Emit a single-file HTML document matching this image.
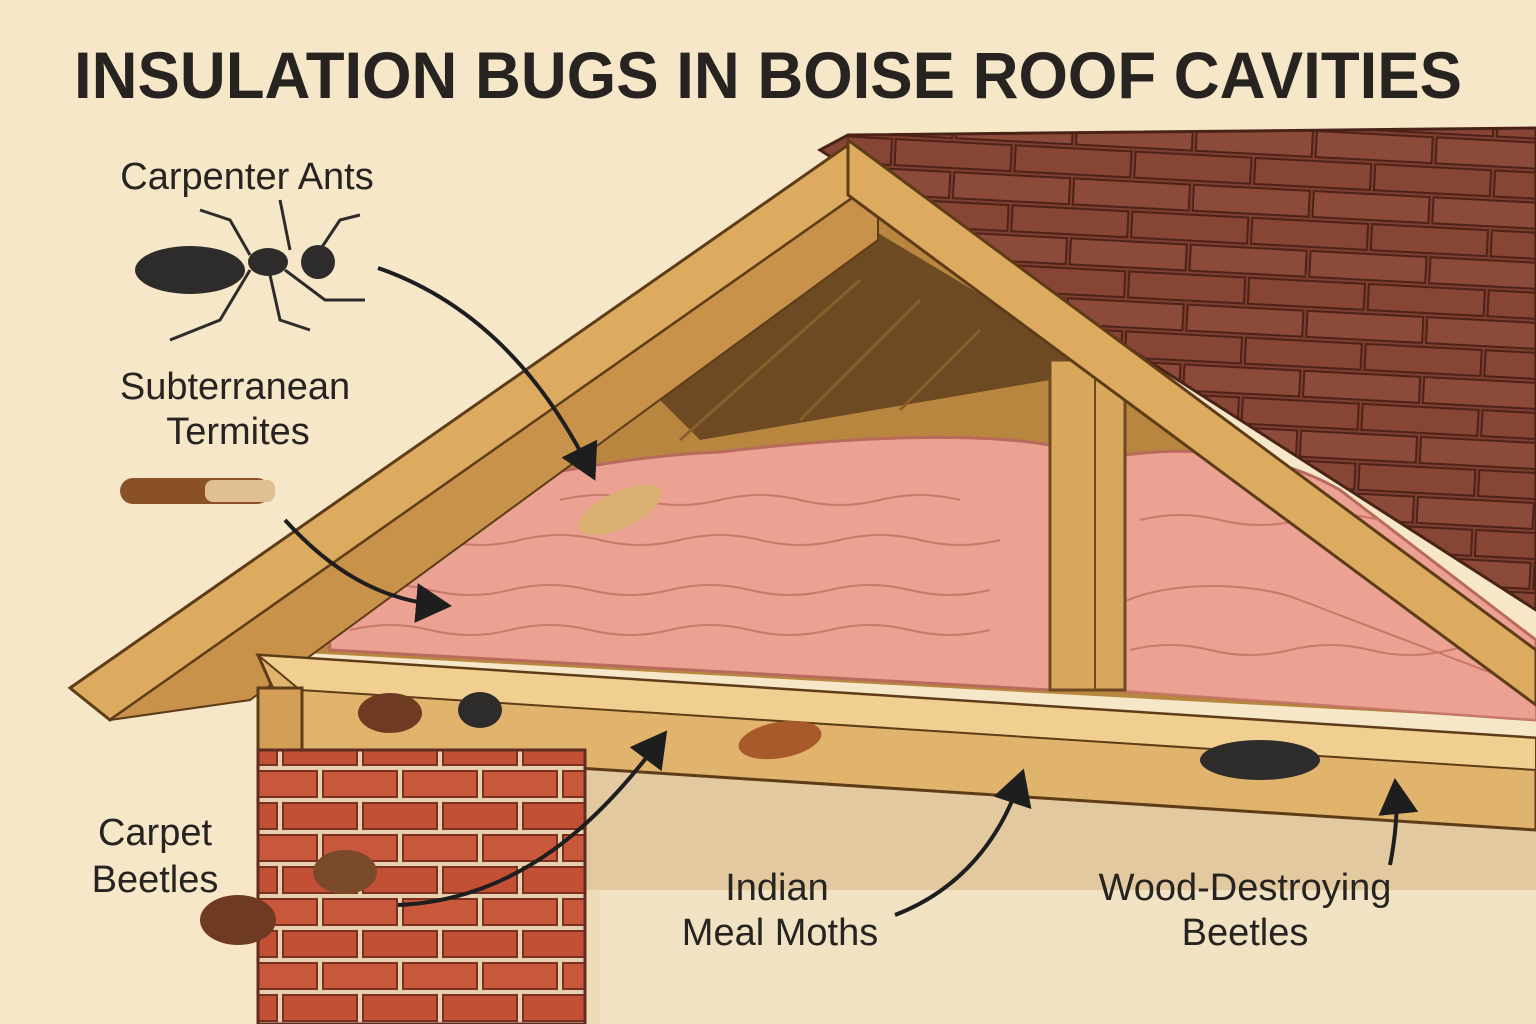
<!DOCTYPE html>
<html><head><meta charset="utf-8"><style>
html,body{margin:0;padding:0;background:#f6e7c9;}
svg{display:block}
text{font-family:"Liberation Sans",sans-serif;fill:#262320}
</style></head><body>
<svg width="1536" height="1024" viewBox="0 0 1536 1024" xmlns="http://www.w3.org/2000/svg">
<defs>
<marker id="ah" markerWidth="10" markerHeight="10" refX="6" refY="5" orient="auto" markerUnits="strokeWidth">
<path d="M0,0 L9,5 L0,10 z" fill="#1e1e1e"/></marker>
<pattern id="brick" width="80" height="64" patternUnits="userSpaceOnUse">
<rect width="80" height="64" fill="#e8cfae"/>
<rect x="3" y="3" width="74" height="26" fill="#c9573b" stroke="#7a3020" stroke-width="2"/>
<rect x="-37" y="35" width="74" height="26" fill="#c35035" stroke="#7a3020" stroke-width="2"/>
<rect x="43" y="35" width="74" height="26" fill="#c35035" stroke="#7a3020" stroke-width="2"/>
</pattern>
<pattern id="shingle" width="120" height="60" patternUnits="userSpaceOnUse" patternTransform="rotate(3)">
<rect width="120" height="60" fill="#7e3f30"/>
<rect x="2" y="2" width="116" height="26" fill="#8c4a3a" stroke="#4e2218" stroke-width="2"/>
<rect x="-58" y="32" width="116" height="26" fill="#864535" stroke="#4e2218" stroke-width="2"/>
<rect x="62" y="32" width="116" height="26" fill="#864535" stroke="#4e2218" stroke-width="2"/>
</pattern>
</defs>
<rect width="1536" height="1024" fill="#f6e7c9"/>
<text x="768" y="98" text-anchor="middle" font-size="66" font-weight="bold" textLength="1388" lengthAdjust="spacingAndGlyphs">INSULATION BUGS IN BOISE ROOF CAVITIES</text>

<rect x="585" y="770" width="951" height="254" fill="#eedbb7"/>
<rect x="585" y="770" width="951" height="120" fill="#e3c9a0"/>
<rect x="600" y="890" width="936" height="134" fill="#f1e2c4"/>
<polygon points="820,150 848,135 1536,128 1536,610" fill="url(#shingle)" stroke="#4a2318" stroke-width="3"/>
<!-- attic interior -->
<polygon points="860,185 250,650 1536,720 1536,660" fill="#b8863f"/>
<polygon points="848,215 660,400 700,440 1050,380 1190,420" fill="#6e4a22"/>
<g stroke="#8a5e2c" stroke-width="3">
<line x1="800" y1="230" x2="420" y2="560"/><line x1="830" y1="260" x2="560" y2="470"/>
<line x1="860" y1="280" x2="680" y2="440"/><line x1="920" y1="300" x2="800" y2="420"/>
<line x1="980" y1="330" x2="900" y2="410"/>
</g>
<!-- insulation -->
<path d="M325,570 C330,520 380,500 470,490 C560,470 640,455 720,452 C820,440 960,430 1050,445 L1050,690 L330,650 Z" fill="#eba292" stroke="#b86a5c" stroke-width="3"/>
<path d="M1125,455 C1200,445 1280,455 1340,490 L1536,640 L1536,720 L1110,690 Z" fill="#eba292" stroke="#b86a5c" stroke-width="3"/>
<path d="M1110,610 C1150,580 1250,580 1300,600 L1536,690 L1536,720 L1110,690 Z" fill="#eba292" stroke="#c9786a" stroke-width="2"/>
<g fill="none" stroke="#c9786a" stroke-width="2">
<path d="M360,540 q40,-10 80,0 t80,0 t80,0 t80,0 t80,0 t80,0 t80,0 t80,0"/>
<path d="M350,590 q40,-10 80,0 t80,0 t80,0 t80,0 t80,0 t80,0 t80,0 t80,0"/>
<path d="M350,630 q40,-10 80,0 t80,0 t80,0 t80,0 t80,0 t80,0 t80,0 t80,0"/>
<path d="M560,500 q40,-10 80,0 t80,0 t80,0 t80,0 t80,0"/>
<path d="M1140,520 q40,-10 80,0 t80,0 t80,0"/>
<path d="M1130,650 q40,-10 80,0 t80,0 t80,0 t80,0 t80,0"/>
</g>
<rect x="1050" y="360" width="75" height="330" fill="#d9a75c" stroke="#6e4a22" stroke-width="3"/>
<line x1="1095" y1="380" x2="1095" y2="690" stroke="#6e4a22" stroke-width="2"/>
<!-- left rafter -->
<polygon points="848,145 878,180 110,720 70,688" fill="#dcab60" stroke="#5e3c18" stroke-width="3"/>
<polygon points="878,180 878,240 250,700 110,720" fill="#c9924a" stroke="#5e3c18" stroke-width="2"/>
<!-- right rafter -->
<polygon points="848,140 1536,650 1536,705 848,195" fill="#dcab60" stroke="#5e3c18" stroke-width="3"/>
<!-- beam -->
<polygon points="258,655 1536,738 1536,830 300,750" fill="#e0b46c" stroke="#5e3c18" stroke-width="3"/>
<polygon points="258,655 300,690 1536,770 1536,738" fill="#f0cf90" stroke="#5e3c18" stroke-width="2"/>
<rect x="258" y="688" width="44" height="62" fill="#d39e55" stroke="#5e3c18" stroke-width="3"/>
<rect x="258" y="750" width="327" height="274" fill="url(#brick)" stroke="#5e2c20" stroke-width="3"/>
<!-- bugs -->
<ellipse cx="190" cy="270" rx="55" ry="24" fill="#2e2c2a"/><ellipse cx="268" cy="262" rx="20" ry="14" fill="#2e2c2a"/><circle cx="318" cy="262" r="17" fill="#2e2c2a"/>
<g stroke="#2e2c2a" stroke-width="3" fill="none"><path d="M250,270 l-30,50 l-50,20"/><path d="M270,275 l10,45 l30,10"/><path d="M285,270 l40,30 l40,0"/><path d="M250,255 l-20,-35 l-30,-10"/><path d="M320,250 l20,-30 l20,-5"/><path d="M290,250 l-10,-50"/></g>
<rect x="120" y="478" width="150" height="26" rx="13" fill="#8a5028"/><rect x="205" y="480" width="70" height="22" rx="8" fill="#e0c090"/>
<ellipse cx="620" cy="510" rx="45" ry="18" fill="#d9b070" transform="rotate(-25 620 510)"/>
<ellipse cx="390" cy="713" rx="32" ry="20" fill="#6e3a22"/><ellipse cx="480" cy="710" rx="22" ry="18" fill="#2e2c2a"/>
<ellipse cx="780" cy="740" rx="42" ry="18" fill="#a85a2a" transform="rotate(-10 780 740)"/>
<ellipse cx="1260" cy="760" rx="60" ry="20" fill="#2e2c2a"/>
<ellipse cx="345" cy="872" rx="32" ry="22" fill="#7a4a2a"/><ellipse cx="238" cy="920" rx="38" ry="25" fill="#6e3a22"/>
<g font-size="38">
<text x="247" y="189" text-anchor="middle">Carpenter Ants</text>
<text x="235" y="399" text-anchor="middle">Subterranean</text>
<text x="238" y="444" text-anchor="middle">Termites</text>
<text x="155" y="845" text-anchor="middle">Carpet</text>
<text x="155" y="892" text-anchor="middle">Beetles</text>
<text x="777" y="900" text-anchor="middle">Indian</text>
<text x="780" y="945" text-anchor="middle">Meal Moths</text>
<text x="1245" y="900" text-anchor="middle">Wood-Destroying</text>
<text x="1245" y="945" text-anchor="middle">Beetles</text>
</g>
<g fill="none" stroke="#1e1e1e" stroke-width="4" marker-end="url(#ah)">
<path d="M378,268 C470,300 540,370 590,470"/>
<path d="M285,520 C330,570 380,600 440,605"/>
<path d="M398,905 C520,900 600,820 660,740"/>
<path d="M895,915 C960,890 1000,840 1020,780"/>
<path d="M1390,865 C1395,840 1398,810 1396,790"/>
</g>
</svg>
</body></html>
